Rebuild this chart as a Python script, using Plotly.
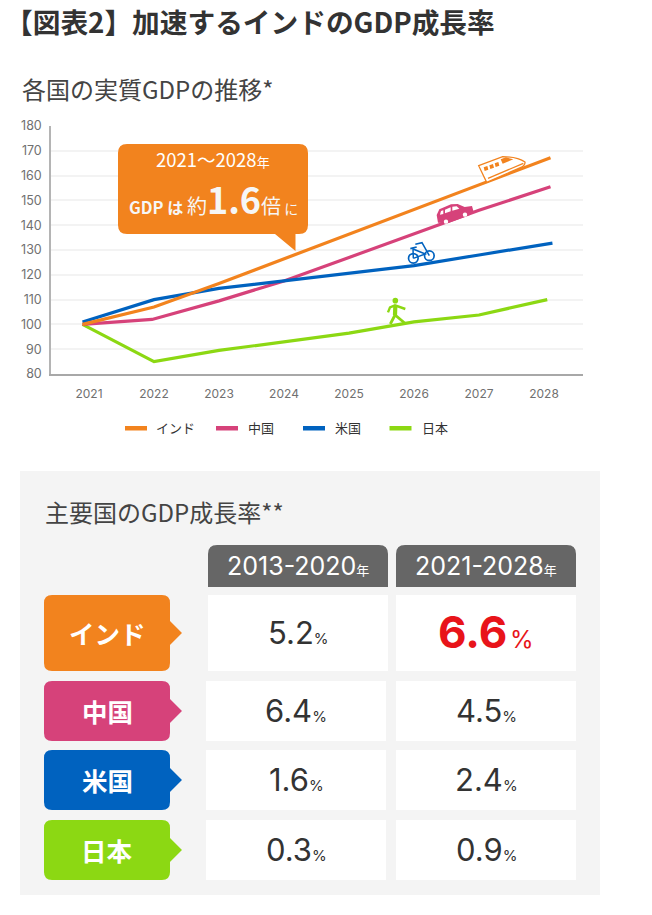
import plotly.graph_objects as go

W, H = 652, 915
CJK = "Noto Sans CJK JP"
LATIN = "Inter"

# ---- data ----
countries = ["インド", "中国", "米国", "日本"]
colors = ["#F2831E", "#D6427A", "#0062BF", "#8CD813"]
years = [2021, 2022, 2023, 2024, 2025, 2026, 2027, 2028]
x_india = [2020.9, 2022, 2023, 2024, 2025, 2026, 2027, 2028.1]
x_china = [2020.9, 2021.97, 2023, 2024, 2025, 2026, 2027, 2028.1]
x_us = [2020.9, 2022, 2023, 2024, 2025, 2026, 2027, 2028.13]
x_japan = [2020.9, 2022, 2023, 2024, 2025, 2026, 2027, 2028.05]
india = [100, 107, 116.5, 126.5, 136.5, 146.5, 156.5, 167.2]
china = [100, 102, 109.5, 117.5, 127, 136.5, 146, 155.5]
us = [101, 110, 114.5, 117.5, 120.5, 123.7, 128, 132.8]
japan = [100, 85, 89.5, 93, 96.5, 101, 103.8, 110]
y_ticks = [80, 90, 100, 110, 120, 130, 140, 150, 160, 170, 180]
period_labels = ["2013-2020", "2021-2028"]
rate_early = [5.2, 6.4, 1.6, 0.3]
rate_late = [6.6, 4.5, 2.4, 0.9]


def px(x):
    return x / W


def py(y):
    return 1 - y / H


def path(*cmds):
    """Build an SVG path in paper coords from (cmd, x, y, ...) tuples."""
    out = []
    for c in cmds:
        if c[0] == "Z":
            out.append("Z")
            continue
        nums = c[1:]
        pts = [f"{px(nums[i]):.5f},{py(nums[i + 1]):.5f}" for i in range(0, len(nums), 2)]
        out.append(c[0] + " ".join(pts))
    return " ".join(out)


shapes, notes = [], []


def add_path(cmds, fill=None, line=None, lw=0, above=False):
    shapes.append(dict(
        type="path", xref="paper", yref="paper", path=path(*cmds),
        fillcolor=fill if fill else "rgba(0,0,0,0)",
        line=dict(color=line if line else "rgba(0,0,0,0)", width=lw),
        layer="above" if above else "below",
    ))


def rect(x0, y0, x1, y1, fill):
    shapes.append(dict(type="rect", xref="paper", yref="paper", x0=px(x0), x1=px(x1),
                       y0=py(y0), y1=py(y1), fillcolor=fill, line=dict(width=0), layer="below"))


def circle(cx, cy, r, fill=None, line=None, lw=0):
    shapes.append(dict(type="circle", xref="paper", yref="paper",
                       x0=px(cx - r), x1=px(cx + r), y0=py(cy - r), y1=py(cy + r),
                       fillcolor=fill if fill else "rgba(0,0,0,0)",
                       line=dict(color=line if line else "rgba(0,0,0,0)", width=lw),
                       layer="above"))


def rrect_cmds(x0, y0, x1, y1, r, tail=None):
    cmds = [("M", x0 + r, y0), ("L", x1 - r, y0), ("Q", x1, y0, x1, y0 + r)]
    if tail == "right":
        m = (y0 + y1) / 2
        cmds += [("L", x1, m - 12), ("L", x1 + 12, m), ("L", x1, m + 12)]
    cmds += [("L", x1, y1 - r), ("Q", x1, y1, x1 - r, y1)]
    if tail == "down":
        cmds += [("L", 295.5, y1), ("L", 295.5, y1 + 17), ("L", 275, y1)]
    cmds += [("L", x0 + r, y1), ("Q", x0, y1, x0, y1 - r), ("L", x0, y0 + r),
             ("Q", x0, y0, x0 + r, y0), ("Z",)]
    return cmds


def text(x, y, s, size, color="#333333", anchor="center", family=CJK):
    notes.append(dict(xref="paper", yref="paper", x=px(x), y=py(y), text=s, showarrow=False,
                      xanchor=anchor, yanchor="middle", borderpad=0,
                      font=dict(size=size, color=color, family=family)))


def span(s, size, bold=False, family=None):
    fam = f";font-family:'{family}'" if family else ""
    t = f'<span style="font-size:{size}px{fam}">{s}</span>'
    return f"<b>{t}</b>" if bold else t


# ---- headings ----
text(4, 21, "<b>【図表2】加速するインドのGDP成長率</b>", 27.7, "#333333", "left")
text(21, 88, "各国の実質GDPの推移*", 24, "#444444", "left")

# ---- line chart series ----
series = [(x_india, india), (x_china, china), (x_us, us), (x_japan, japan)]
traces = []
for i in [3, 1, 2, 0]:
    xs, ys = series[i]
    traces.append(go.Scatter(x=xs, y=ys, mode="lines", name=countries[i], showlegend=False,
                             line=dict(color=colors[i], width=3.2), hoverinfo="x+y+name"))
fig = go.Figure(traces)

# ---- callout ----
add_path(rrect_cmds(118, 144, 308, 234, 9, "down"), fill=colors[0], above=True)
text(213, 159, "2021～2028" + span("年", 13), 18.5, "#FFFFFF")
text(213, 198, "<b>GDP</b>" + span(" は ", 16, True) + span("約", 20) +
     span("1.6", 36, True) + span("倍", 20) + span(" に", 14), 16.5, "#F6F6F6")

# ---- legend ----
leg_x = [(125, 155), (216, 247), (303, 334), (389.5, 421)]
for (sx, tx), name, col in zip(leg_x, countries, colors):
    rect(sx, 426, sx + 22, 430.5, col)
    text(tx, 427, name, 13, "#333333", "left")

# ---- table panel ----
rect(20, 471, 600, 895, "#F4F4F4")
text(44, 511, "主要国のGDP成長率**", 24, "#444444", "left")

col_x = [208, 396]
for cx, label in zip(col_x, period_labels):
    add_path([("M", cx + 9, 545), ("L", cx + 171, 545), ("Q", cx + 180, 545, cx + 180, 554),
              ("L", cx + 180, 587), ("L", cx, 587), ("L", cx, 554), ("Q", cx, 545, cx + 9, 545), ("Z",)],
             fill="#666666")
    text(cx + 90, 566, label + span("年", 13, family=CJK), 25, "#FFFFFF", family=LATIN)

rows = [(595, 671), (681, 741), (750, 810), (820, 880)]
cell_x = [[208, 396], [206, 396], [206, 396], [206, 396]]
for i, (y0, y1) in enumerate(rows):
    add_path(rrect_cmds(44, y0, 170, y1, 8, "right"), fill=colors[i])
    text(107, (y0 + y1) / 2 - 1, f"<b>{countries[i]}</b>", 25.5, "#FFFFFF")
    for j, vals in enumerate([rate_early, rate_late]):
        x0 = cell_x[i][j]
        rect(x0, y0, x0 + 180, y1, "#FFFFFF")
        val = f"{vals[i]:.1f}"
        cy = (y0 + y1) / 2 - 1
        if i == 0 and j == 1:
            text(x0 + 90, cy, f"<b>{val}</b>" + span(" ", 10) + span("%", 24), 44, "#E8141A", family=LATIN)
        else:
            text(x0 + 90, cy, val + span("%", 15), 31, "#333333", family=LATIN)

# ---- icons ----
o, g_, b, p = colors[0], colors[3], colors[2], colors[1]


def z(x, y):
    return 326 + x / 3, 100 + y / 3


def zp(cmd, *pts):
    out = [cmd]
    for q in pts:
        out.extend(z(*q))
    return tuple(out)


# train
add_path([zp("M", (458, 197)), zp("L", (530, 170)), zp("Q", (575, 170), (597, 186)),
          zp("Q", (598, 196), (585, 202)), zp("L", (482, 247)), ("Z",)],
         fill="#FFFFFF", line=o, lw=1.3, above=True)
for a in [(473, 202), (490, 196), (506, 190)]:
    add_path([zp("M", a), zp("L", (a[0] + 11, a[1] - 4)), zp("L", (a[0] + 14, a[1] + 7)),
              zp("L", (a[0] + 3, a[1] + 11)), ("Z",)], fill=o, above=True)
add_path([zp("M", (524, 178)), zp("L", (540, 172)), zp("L", (562, 178)), zp("L", (530, 191)), ("Z",)],
         fill=o, above=True)
add_path([zp("M", (486, 235)), zp("L", (592, 190))], line=o, lw=1.3, above=True)
# car
add_path([zp("M", (332, 345)), zp("L", (340, 328)), zp("L", (375, 313)), zp("L", (395, 312)),
          zp("L", (416, 321)), zp("L", (438, 318)), zp("L", (442, 332)), zp("L", (430, 346)),
          zp("L", (365, 370)), zp("L", (336, 368)), ("Z",)], fill=p, above=True)
add_path([zp("M", (342, 344)), zp("L", (345, 333)), zp("L", (352, 331)), zp("L", (352, 342)), ("Z",)],
         fill="#FFFFFF", above=True)
add_path([zp("M", (357, 340)), zp("L", (357, 329)), zp("L", (374, 322)), zp("L", (374, 334)), ("Z",)],
         fill="#FFFFFF", above=True)
add_path([zp("M", (379, 332)), zp("L", (379, 320)), zp("L", (392, 319)), zp("L", (400, 326)), ("Z",)],
         fill="#FFFFFF", above=True)
for c in [(360, 365), (417, 344)]:
    circle(*z(*c), 2.2, fill="#FFFFFF", line=p, lw=0)
# bicycle
circle(*z(262, 475), 4.8, line=b, lw=1.7)
circle(*z(310, 467), 4.8, line=b, lw=1.7)
add_path([zp("M", (262, 475)), zp("L", (261, 447)), zp("L", (298, 462)), zp("L", (262, 475))],
         line=b, lw=1.5, above=True)
add_path([zp("M", (268, 433)), zp("L", (288, 428)), zp("L", (310, 467))], line=b, lw=1.5, above=True)
add_path([zp("M", (253, 446)), zp("L", (272, 441))], line=b, lw=1.7, above=True)
# walker
circle(*z(208, 602), 2.8, fill=g_)
add_path([zp("M", (186, 637)), zp("L", (192, 622)), zp("L", (207, 616)), zp("L", (238, 627))],
         line=g_, lw=2.4, above=True)
add_path([zp("M", (208, 617)), zp("L", (207, 645))], line=g_, lw=4.2, above=True)
add_path([zp("M", (193, 672)), zp("L", (207, 645)), zp("L", (236, 669))], line=g_, lw=2.8, above=True)

# ---- layout ----
L, R, T, B = 51, 583, 126, 374
x_per_year = 65.0
fig.update_layout(
    width=W, height=H, autosize=False,
    margin=dict(l=0, r=0, t=0, b=0, pad=0, autoexpand=False),
    paper_bgcolor="#FFFFFF", plot_bgcolor="#FFFFFF",
    showlegend=False, shapes=shapes, annotations=notes,
    font=dict(family=CJK, color="#333333"),
    xaxis=dict(domain=[px(L), px(R)], range=[2021 - 38 / x_per_year, 2028 + 39 / x_per_year],
               tickmode="array", tickvals=years, ticktext=[str(v) for v in years],
               showgrid=False, zeroline=False, showline=True, linecolor="#A8A8A8", linewidth=1.5,
               ticks="outside", ticklen=8, tickcolor="rgba(0,0,0,0)",
               tickfont=dict(size=12, color="#707070", family=LATIN)),
    yaxis=dict(domain=[py(B), py(T)], range=[80, 180], tickmode="array", tickvals=y_ticks,
               showgrid=True, gridcolor="#F3F3F3", gridwidth=1.5, zeroline=False,
               showline=True, linecolor="#B4B4B4", linewidth=1.5,
               ticks="outside", ticklen=5, tickcolor="rgba(0,0,0,0)",
               tickfont=dict(size=12.5, color="#707070", family=LATIN)),
)

fig.write_html("out.html", config={"displayModeBar": False},
               post_script="document.body.style.margin='0';document.documentElement.style.overflow='hidden';")
